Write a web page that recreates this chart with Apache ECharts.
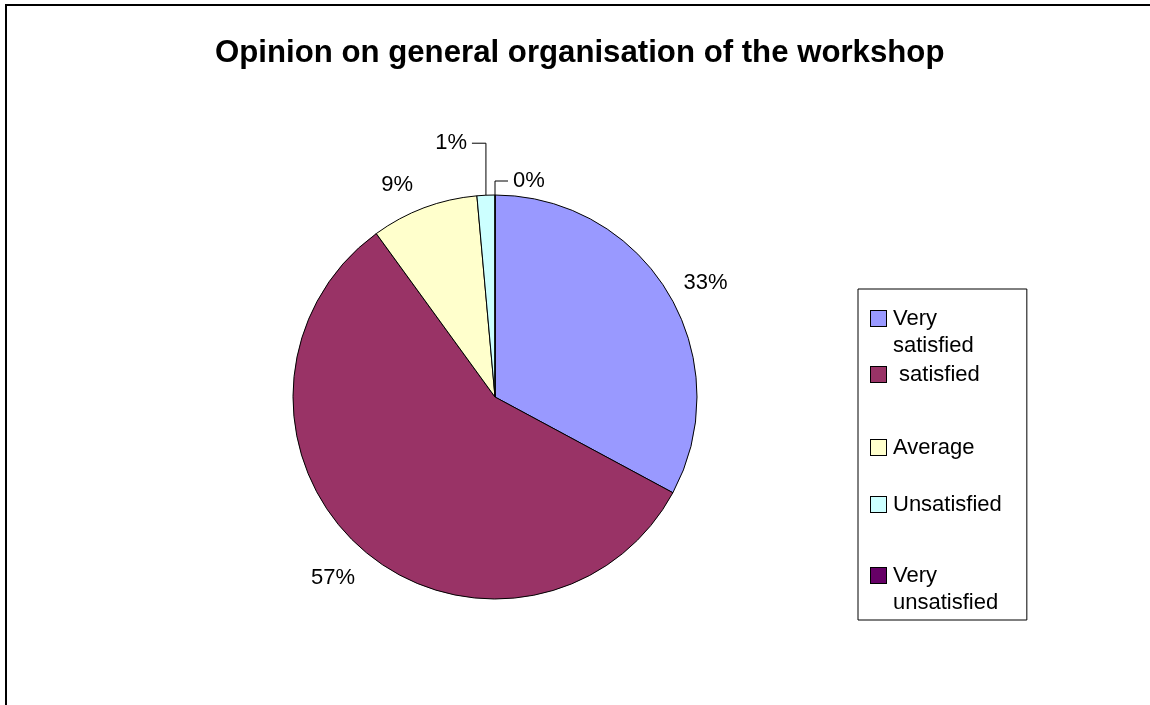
<!DOCTYPE html>
<html>
<head>
<meta charset="utf-8">
<script src="https://cdn.jsdelivr.net/npm/echarts@6/dist/echarts.min.js"></script>
<style>
html, body { margin: 0; padding: 0; background: #fff; }
#chart { width: 1150px; height: 705px; }
</style>
</head>
<body>
<div id="chart"></div>
<script>
// ---- data ----
const titleText = 'Opinion on general organisation of the workshop';
const categories = ['Very satisfied', ' satisfied', 'Average', 'Unsatisfied', 'Very unsatisfied'];
const counts = [23, 40, 6, 1, 0];
const colors = ['#9999FF', '#993366', '#FFFFCC', '#CCFFFF', '#660066'];

// ---- styles / layout ----
const FONT = "'Liberation Sans', Arial, sans-serif";
const PIE_CENTER = [495, 397];
const PIE_RADIUS = 202;
// label placement relative to the slice's mid point on the rim
const labelPlacement = [
  { dx: 15, dy: -10, align: 'left' },
  { dx: -7, dy: 29, align: 'right' },
  { dx: -11, dy: -23, align: 'right' },
  { leader: true, dx: -14, dy: -52 },
  { leader: true, dx: 13, dy: -14 }
];
const legendPadTop = [16, 2, 46, 30, 44];

const total = counts.reduce((a, b) => a + b, 0);
const midAngles = [];
let acc = 0;
counts.forEach(v => { midAngles.push((acc + v / 2) / total * Math.PI * 2); acc += v; });

function wrapName(name) {
  const t = name.trim();
  const k = name.lastIndexOf(' ');
  if (t.length > 11 && k > 0) return [name.slice(0, k), name.slice(k + 1)];
  return [name];
}

const rich = { g: { width: 7 }, s: { width: 22 } };
colors.forEach((c, i) => {
  rich['m' + i] = {
    width: 15, height: 15, backgroundColor: c,
    borderColor: '#000', borderWidth: 1, verticalAlign: 'middle'
  };
});

const chart = echarts.init(document.getElementById('chart'), null, { renderer: 'canvas' });
chart.setOption({
  backgroundColor: '#fff',
  animation: false,
  graphic: [{
    type: 'rect', silent: true, z: 100,
    shape: { x: 6, y: 5, width: 1400, height: 1000 },
    style: { fill: 'none', stroke: '#000', lineWidth: 2 }
  }],
  title: {
    text: titleText,
    left: 210,
    top: 33,
    padding: [5, 5, 5, 5],
    textStyle: { fontSize: 31.2, fontWeight: 'bold', fontFamily: FONT, color: '#000' }
  },
  legend: {
    orient: 'vertical',
    left: 858,
    top: 289,
    padding: [0, 25, 4, 8],
    itemGap: 0,
    itemWidth: 0,
    itemHeight: 1,
    icon: 'rect',
    itemStyle: { opacity: 0, borderWidth: 0 },
    borderColor: '#000',
    borderWidth: 1,
    selectedMode: false,
    textStyle: { fontSize: 22, fontFamily: FONT, color: '#000', lineHeight: 27, rich: rich },
    data: categories.map((n, i) => ({ name: n, textStyle: { padding: [legendPadTop[i], 0, 0, 0] } })),
    formatter: function (name) {
      const i = categories.indexOf(name);
      const lines = wrapName(name);
      return '{m' + i + '|}{g|}' + lines[0] + (lines[1] ? '\n{s|}' + lines[1] : '');
    }
  },
  series: [{
    type: 'pie',
    center: PIE_CENTER,
    radius: PIE_RADIUS,
    startAngle: 90,
    clockwise: true,
    avoidLabelOverlap: false,
    silent: true,
    itemStyle: { borderColor: '#000', borderWidth: 1 },
    label: {
      show: true,
      position: 'outside',
      fontSize: 22,
      fontFamily: FONT,
      color: '#000',
      formatter: p => Math.round(p.percent) + '%'
    },
    labelLine: { show: false, smooth: false, lineStyle: { color: '#000', width: 1 } },
    labelLayout: function (p) {
      const i = p.dataIndex;
      const a = midAngles[i];
      const ex = PIE_CENTER[0] + PIE_RADIUS * Math.sin(a);
      const ey = PIE_CENTER[1] - PIE_RADIUS * Math.cos(a);
      const s = labelPlacement[i];
      if (s.leader) {
        const ly = ey + s.dy;
        const lx = ex + s.dx;
        const dir = s.dx < 0 ? -1 : 1;
        return {
          x: lx + dir * 5, y: ly,
          align: dir < 0 ? 'right' : 'left', verticalAlign: 'middle',
          labelLinePoints: [[ex, ey], [ex, ly], [lx, ly]]
        };
      }
      return { x: ex + s.dx, y: ey + s.dy, align: s.align, verticalAlign: 'middle' };
    },
    data: categories.map((n, i) => ({
      name: n,
      value: counts[i],
      itemStyle: { color: colors[i] },
      labelLine: { show: !!labelPlacement[i].leader }
    }))
  }]
});
</script>
</body>
</html>
